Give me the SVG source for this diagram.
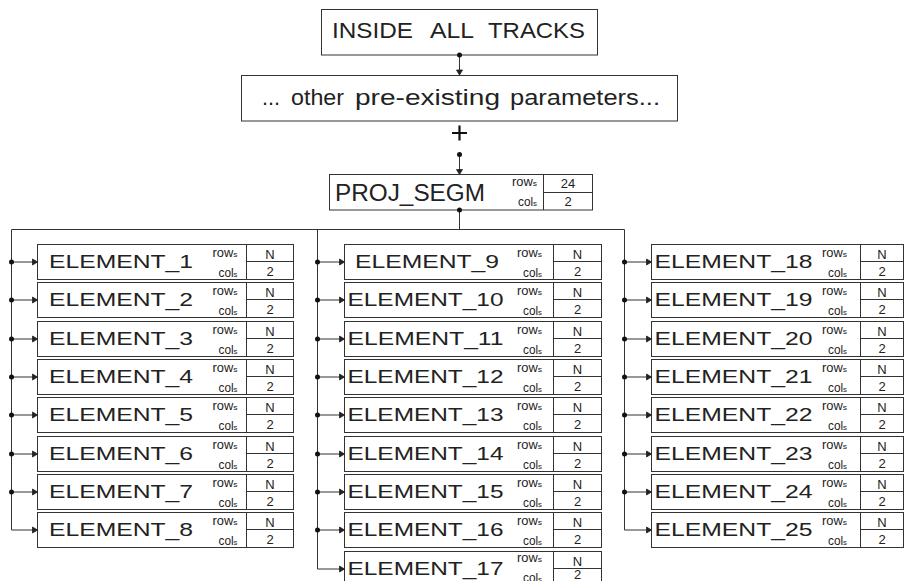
<svg xmlns="http://www.w3.org/2000/svg" width="904" height="581" viewBox="0 0 904 581">
<style>
.bx{fill:#fff;stroke:#333;stroke-width:1}
.ln{fill:none;stroke:#333;stroke-width:1}
.cn{fill:none;stroke:#333;stroke-width:1}
.dot{fill:#111}
.t{font-family:"Liberation Sans",Arial,sans-serif;fill:#222}
.lab{font-size:19px;text-anchor:middle}
.rc{font-size:12px;text-anchor:end}
.rc tspan{font-size:8px}
.v{font-size:13px;text-anchor:middle}
</style>
<defs>
<marker id="ar" markerUnits="userSpaceOnUse" markerWidth="8" markerHeight="8" refX="6" refY="4" orient="auto">
<path d="M1,1 L6,4 L1,7 Z" fill="#222" stroke="#222" stroke-width="0.8"/>
</marker>
<g id="rcl">
<text class="t rc" x="0" y="12.5" textLength="25" lengthAdjust="spacingAndGlyphs">row<tspan>s</tspan></text>
<text class="t rc" x="0" y="32.5" textLength="19" lengthAdjust="spacingAndGlyphs">col<tspan>s</tspan></text>
</g>
</defs>

<g id="inside_all_tracks">
<rect class="bx" x="321.5" y="9.5" width="276" height="45.5"/>
<text class="t" y="37.5" font-size="22.5"><tspan x="332" textLength="81" lengthAdjust="spacingAndGlyphs">INSIDE</tspan><tspan x="430" textLength="44" lengthAdjust="spacingAndGlyphs">ALL</tspan><tspan x="488" textLength="97" lengthAdjust="spacingAndGlyphs">TRACKS</tspan></text>
</g>

<g id="other_parameters">
<rect class="bx" x="241.5" y="75.5" width="436" height="45.5"/>
<text class="t" y="104.5" font-size="22"><tspan x="262" textLength="18" lengthAdjust="spacingAndGlyphs">...</tspan><tspan x="291" textLength="53" lengthAdjust="spacingAndGlyphs">other</tspan><tspan x="355" textLength="145" lengthAdjust="spacingAndGlyphs">pre-existing</tspan><tspan x="510" textLength="150" lengthAdjust="spacingAndGlyphs">parameters...</tspan></text>
</g>

<g id="plus">
<path d="M452,133 H467 M459.5,125.5 V140.5" stroke="#111" stroke-width="2.2" fill="none"/>
</g>

<g id="proj_segm">
<rect class="bx" x="329.5" y="174.5" width="263" height="35.5"/>
<line class="ln" x1="543.5" y1="174.5" x2="543.5" y2="210"/>
<line class="ln" x1="543.5" y1="192.5" x2="592.5" y2="192.5"/>
<text class="t" x="335" y="200.5" font-size="23" textLength="150" lengthAdjust="spacingAndGlyphs">PROJ_SEGM</text>
<use href="#rcl" x="537" y="173.5"/>
<text class="t v" x="568" y="187.5">24</text>
<text class="t v" x="568" y="206">2</text>
</g>

<!-- Column 1 -->
<g id="element_1"><rect class="bx" x="37.5" y="244.5" width="256" height="35"/><line class="ln" x1="246.5" y1="244.5" x2="246.5" y2="279.5"/><line class="ln" x1="246.5" y1="261.5" x2="293.5" y2="261.5"/><text class="t lab" x="121" y="267.5" textLength="144" lengthAdjust="spacingAndGlyphs">ELEMENT_1</text><use href="#rcl" x="237.5" y="244.5"/><text class="t v" x="270" y="258.5">N</text><text class="t v" x="270" y="276">2</text></g>
<g id="element_2"><rect class="bx" x="37.5" y="282.5" width="256" height="35"/><line class="ln" x1="246.5" y1="282.5" x2="246.5" y2="317.5"/><line class="ln" x1="246.5" y1="299.5" x2="293.5" y2="299.5"/><text class="t lab" x="121" y="305.5" textLength="144" lengthAdjust="spacingAndGlyphs">ELEMENT_2</text><use href="#rcl" x="237.5" y="282.5"/><text class="t v" x="270" y="296.5">N</text><text class="t v" x="270" y="314">2</text></g>
<g id="element_3"><rect class="bx" x="37.5" y="321.5" width="256" height="35"/><line class="ln" x1="246.5" y1="321.5" x2="246.5" y2="356.5"/><line class="ln" x1="246.5" y1="338.5" x2="293.5" y2="338.5"/><text class="t lab" x="121" y="344.5" textLength="144" lengthAdjust="spacingAndGlyphs">ELEMENT_3</text><use href="#rcl" x="237.5" y="321.5"/><text class="t v" x="270" y="335.5">N</text><text class="t v" x="270" y="353">2</text></g>
<g id="element_4"><rect class="bx" x="37.5" y="359.5" width="256" height="35"/><line class="ln" x1="246.5" y1="359.5" x2="246.5" y2="394.5"/><line class="ln" x1="246.5" y1="376.5" x2="293.5" y2="376.5"/><text class="t lab" x="121" y="382.5" textLength="144" lengthAdjust="spacingAndGlyphs">ELEMENT_4</text><use href="#rcl" x="237.5" y="359.5"/><text class="t v" x="270" y="373.5">N</text><text class="t v" x="270" y="391">2</text></g>
<g id="element_5"><rect class="bx" x="37.5" y="397.5" width="256" height="35"/><line class="ln" x1="246.5" y1="397.5" x2="246.5" y2="432.5"/><line class="ln" x1="246.5" y1="414.5" x2="293.5" y2="414.5"/><text class="t lab" x="121" y="420.5" textLength="144" lengthAdjust="spacingAndGlyphs">ELEMENT_5</text><use href="#rcl" x="237.5" y="397.5"/><text class="t v" x="270" y="411.5">N</text><text class="t v" x="270" y="429">2</text></g>
<g id="element_6"><rect class="bx" x="37.5" y="436.5" width="256" height="35"/><line class="ln" x1="246.5" y1="436.5" x2="246.5" y2="471.5"/><line class="ln" x1="246.5" y1="453.5" x2="293.5" y2="453.5"/><text class="t lab" x="121" y="459.5" textLength="144" lengthAdjust="spacingAndGlyphs">ELEMENT_6</text><use href="#rcl" x="237.5" y="436.5"/><text class="t v" x="270" y="450.5">N</text><text class="t v" x="270" y="468">2</text></g>
<g id="element_7"><rect class="bx" x="37.5" y="474.5" width="256" height="35"/><line class="ln" x1="246.5" y1="474.5" x2="246.5" y2="509.5"/><line class="ln" x1="246.5" y1="491.5" x2="293.5" y2="491.5"/><text class="t lab" x="121" y="497.5" textLength="144" lengthAdjust="spacingAndGlyphs">ELEMENT_7</text><use href="#rcl" x="237.5" y="474.5"/><text class="t v" x="270" y="488.5">N</text><text class="t v" x="270" y="506">2</text></g>
<g id="element_8"><rect class="bx" x="37.5" y="512.5" width="256" height="35"/><line class="ln" x1="246.5" y1="512.5" x2="246.5" y2="547.5"/><line class="ln" x1="246.5" y1="529.5" x2="293.5" y2="529.5"/><text class="t lab" x="121" y="535.5" textLength="144" lengthAdjust="spacingAndGlyphs">ELEMENT_8</text><use href="#rcl" x="237.5" y="512.5"/><text class="t v" x="270" y="526.5">N</text><text class="t v" x="270" y="544">2</text></g>

<!-- Column 2 -->
<g id="element_9"><rect class="bx" x="344.5" y="244.5" width="257" height="35"/><line class="ln" x1="553.5" y1="244.5" x2="553.5" y2="279.5"/><line class="ln" x1="553.5" y1="261.5" x2="601.5" y2="261.5"/><text class="t lab" x="427" y="267.5" textLength="144" lengthAdjust="spacingAndGlyphs">ELEMENT_9</text><use href="#rcl" x="542" y="244.5"/><text class="t v" x="577.5" y="258.5">N</text><text class="t v" x="577.5" y="276">2</text></g>
<g id="element_10"><rect class="bx" x="344.5" y="282.5" width="257" height="35"/><line class="ln" x1="553.5" y1="282.5" x2="553.5" y2="317.5"/><line class="ln" x1="553.5" y1="299.5" x2="601.5" y2="299.5"/><text class="t lab" x="425.5" y="305.5" textLength="156" lengthAdjust="spacingAndGlyphs">ELEMENT_10</text><use href="#rcl" x="542" y="282.5"/><text class="t v" x="577.5" y="296.5">N</text><text class="t v" x="577.5" y="314">2</text></g>
<g id="element_11"><rect class="bx" x="344.5" y="321.5" width="257" height="35"/><line class="ln" x1="553.5" y1="321.5" x2="553.5" y2="356.5"/><line class="ln" x1="553.5" y1="338.5" x2="601.5" y2="338.5"/><text class="t lab" x="425.5" y="344.5" textLength="156" lengthAdjust="spacingAndGlyphs">ELEMENT_11</text><use href="#rcl" x="542" y="321.5"/><text class="t v" x="577.5" y="335.5">N</text><text class="t v" x="577.5" y="353">2</text></g>
<g id="element_12"><rect class="bx" x="344.5" y="359.5" width="257" height="35"/><line class="ln" x1="553.5" y1="359.5" x2="553.5" y2="394.5"/><line class="ln" x1="553.5" y1="376.5" x2="601.5" y2="376.5"/><text class="t lab" x="425.5" y="382.5" textLength="156" lengthAdjust="spacingAndGlyphs">ELEMENT_12</text><use href="#rcl" x="542" y="359.5"/><text class="t v" x="577.5" y="373.5">N</text><text class="t v" x="577.5" y="391">2</text></g>
<g id="element_13"><rect class="bx" x="344.5" y="397.5" width="257" height="35"/><line class="ln" x1="553.5" y1="397.5" x2="553.5" y2="432.5"/><line class="ln" x1="553.5" y1="414.5" x2="601.5" y2="414.5"/><text class="t lab" x="425.5" y="420.5" textLength="156" lengthAdjust="spacingAndGlyphs">ELEMENT_13</text><use href="#rcl" x="542" y="397.5"/><text class="t v" x="577.5" y="411.5">N</text><text class="t v" x="577.5" y="429">2</text></g>
<g id="element_14"><rect class="bx" x="344.5" y="436.5" width="257" height="35"/><line class="ln" x1="553.5" y1="436.5" x2="553.5" y2="471.5"/><line class="ln" x1="553.5" y1="453.5" x2="601.5" y2="453.5"/><text class="t lab" x="425.5" y="459.5" textLength="156" lengthAdjust="spacingAndGlyphs">ELEMENT_14</text><use href="#rcl" x="542" y="436.5"/><text class="t v" x="577.5" y="450.5">N</text><text class="t v" x="577.5" y="468">2</text></g>
<g id="element_15"><rect class="bx" x="344.5" y="474.5" width="257" height="35"/><line class="ln" x1="553.5" y1="474.5" x2="553.5" y2="509.5"/><line class="ln" x1="553.5" y1="491.5" x2="601.5" y2="491.5"/><text class="t lab" x="425.5" y="497.5" textLength="156" lengthAdjust="spacingAndGlyphs">ELEMENT_15</text><use href="#rcl" x="542" y="474.5"/><text class="t v" x="577.5" y="488.5">N</text><text class="t v" x="577.5" y="506">2</text></g>
<g id="element_16"><rect class="bx" x="344.5" y="512.5" width="257" height="35"/><line class="ln" x1="553.5" y1="512.5" x2="553.5" y2="547.5"/><line class="ln" x1="553.5" y1="529.5" x2="601.5" y2="529.5"/><text class="t lab" x="425.5" y="535.5" textLength="156" lengthAdjust="spacingAndGlyphs">ELEMENT_16</text><use href="#rcl" x="542" y="512.5"/><text class="t v" x="577.5" y="526.5">N</text><text class="t v" x="577.5" y="544">2</text></g>
<g id="element_17"><rect class="bx" x="344.5" y="551.5" width="257" height="35"/><line class="ln" x1="553.5" y1="551.5" x2="553.5" y2="586.5"/><line class="ln" x1="553.5" y1="568.5" x2="601.5" y2="568.5"/><text class="t lab" x="425.5" y="574.5" textLength="156" lengthAdjust="spacingAndGlyphs">ELEMENT_17</text><use href="#rcl" x="542" y="549.5"/><text class="t v" x="577.5" y="565.5">N</text><text class="t v" x="577.5" y="579" font-size="10">2</text></g>

<!-- Column 3 -->
<g id="element_18"><rect class="bx" x="651.5" y="244.5" width="252" height="35"/><line class="ln" x1="860.5" y1="244.5" x2="860.5" y2="279.5"/><line class="ln" x1="860.5" y1="261.5" x2="903.5" y2="261.5"/><text class="t lab" x="733.5" y="267.5" textLength="158" lengthAdjust="spacingAndGlyphs">ELEMENT_18</text><use href="#rcl" x="847" y="244.5"/><text class="t v" x="882" y="258.5">N</text><text class="t v" x="882" y="276">2</text></g>
<g id="element_19"><rect class="bx" x="651.5" y="282.5" width="252" height="35"/><line class="ln" x1="860.5" y1="282.5" x2="860.5" y2="317.5"/><line class="ln" x1="860.5" y1="299.5" x2="903.5" y2="299.5"/><text class="t lab" x="733.5" y="305.5" textLength="158" lengthAdjust="spacingAndGlyphs">ELEMENT_19</text><use href="#rcl" x="847" y="282.5"/><text class="t v" x="882" y="296.5">N</text><text class="t v" x="882" y="314">2</text></g>
<g id="element_20"><rect class="bx" x="651.5" y="321.5" width="252" height="35"/><line class="ln" x1="860.5" y1="321.5" x2="860.5" y2="356.5"/><line class="ln" x1="860.5" y1="338.5" x2="903.5" y2="338.5"/><text class="t lab" x="733.5" y="344.5" textLength="158" lengthAdjust="spacingAndGlyphs">ELEMENT_20</text><use href="#rcl" x="847" y="321.5"/><text class="t v" x="882" y="335.5">N</text><text class="t v" x="882" y="353">2</text></g>
<g id="element_21"><rect class="bx" x="651.5" y="359.5" width="252" height="35"/><line class="ln" x1="860.5" y1="359.5" x2="860.5" y2="394.5"/><line class="ln" x1="860.5" y1="376.5" x2="903.5" y2="376.5"/><text class="t lab" x="733.5" y="382.5" textLength="158" lengthAdjust="spacingAndGlyphs">ELEMENT_21</text><use href="#rcl" x="847" y="359.5"/><text class="t v" x="882" y="373.5">N</text><text class="t v" x="882" y="391">2</text></g>
<g id="element_22"><rect class="bx" x="651.5" y="397.5" width="252" height="35"/><line class="ln" x1="860.5" y1="397.5" x2="860.5" y2="432.5"/><line class="ln" x1="860.5" y1="414.5" x2="903.5" y2="414.5"/><text class="t lab" x="733.5" y="420.5" textLength="158" lengthAdjust="spacingAndGlyphs">ELEMENT_22</text><use href="#rcl" x="847" y="397.5"/><text class="t v" x="882" y="411.5">N</text><text class="t v" x="882" y="429">2</text></g>
<g id="element_23"><rect class="bx" x="651.5" y="436.5" width="252" height="35"/><line class="ln" x1="860.5" y1="436.5" x2="860.5" y2="471.5"/><line class="ln" x1="860.5" y1="453.5" x2="903.5" y2="453.5"/><text class="t lab" x="733.5" y="459.5" textLength="158" lengthAdjust="spacingAndGlyphs">ELEMENT_23</text><use href="#rcl" x="847" y="436.5"/><text class="t v" x="882" y="450.5">N</text><text class="t v" x="882" y="468">2</text></g>
<g id="element_24"><rect class="bx" x="651.5" y="474.5" width="252" height="35"/><line class="ln" x1="860.5" y1="474.5" x2="860.5" y2="509.5"/><line class="ln" x1="860.5" y1="491.5" x2="903.5" y2="491.5"/><text class="t lab" x="733.5" y="497.5" textLength="158" lengthAdjust="spacingAndGlyphs">ELEMENT_24</text><use href="#rcl" x="847" y="474.5"/><text class="t v" x="882" y="488.5">N</text><text class="t v" x="882" y="506">2</text></g>
<g id="element_25"><rect class="bx" x="651.5" y="512.5" width="252" height="35"/><line class="ln" x1="860.5" y1="512.5" x2="860.5" y2="547.5"/><line class="ln" x1="860.5" y1="529.5" x2="903.5" y2="529.5"/><text class="t lab" x="733.5" y="535.5" textLength="158" lengthAdjust="spacingAndGlyphs">ELEMENT_25</text><use href="#rcl" x="847" y="512.5"/><text class="t v" x="882" y="526.5">N</text><text class="t v" x="882" y="544">2</text></g>

<g id="connectors">
<line class="cn" x1="459.5" y1="55" x2="459.5" y2="75" marker-end="url(#ar)"/>
<circle class="dot" cx="459.5" cy="55" r="2.5"/>
<line class="cn" x1="459.5" y1="154.5" x2="459.5" y2="174.5" marker-end="url(#ar)"/>
<circle class="dot" cx="459.5" cy="154.5" r="2.5"/>
<line class="cn" x1="459.5" y1="210" x2="459.5" y2="229.5"/>
<circle class="dot" cx="459.5" cy="210" r="2.5"/>
<path class="cn" d="M11.5,229.5 H624.5"/>
<path class="cn" d="M11.5,229.5 V530 H37.5" marker-end="url(#ar)"/>
<path class="cn" d="M317.5,229.5 V569 H344.5" marker-end="url(#ar)"/>
<path class="cn" d="M624.5,229.5 V530 H651.5" marker-end="url(#ar)"/>
<g id="c1">
<path class="cn" d="M11.5,262 H37.5" marker-end="url(#ar)"/><circle class="dot" cx="11.5" cy="262" r="2.5"/>
<path class="cn" d="M11.5,300 H37.5" marker-end="url(#ar)"/><circle class="dot" cx="11.5" cy="300" r="2.5"/>
<path class="cn" d="M11.5,339 H37.5" marker-end="url(#ar)"/><circle class="dot" cx="11.5" cy="339" r="2.5"/>
<path class="cn" d="M11.5,377 H37.5" marker-end="url(#ar)"/><circle class="dot" cx="11.5" cy="377" r="2.5"/>
<path class="cn" d="M11.5,415 H37.5" marker-end="url(#ar)"/><circle class="dot" cx="11.5" cy="415" r="2.5"/>
<path class="cn" d="M11.5,454 H37.5" marker-end="url(#ar)"/><circle class="dot" cx="11.5" cy="454" r="2.5"/>
<path class="cn" d="M11.5,492 H37.5" marker-end="url(#ar)"/><circle class="dot" cx="11.5" cy="492" r="2.5"/>
</g>
<g id="c2">
<path class="cn" d="M317.5,262 H344.5" marker-end="url(#ar)"/><circle class="dot" cx="317.5" cy="262" r="2.5"/>
<path class="cn" d="M317.5,300 H344.5" marker-end="url(#ar)"/><circle class="dot" cx="317.5" cy="300" r="2.5"/>
<path class="cn" d="M317.5,339 H344.5" marker-end="url(#ar)"/><circle class="dot" cx="317.5" cy="339" r="2.5"/>
<path class="cn" d="M317.5,377 H344.5" marker-end="url(#ar)"/><circle class="dot" cx="317.5" cy="377" r="2.5"/>
<path class="cn" d="M317.5,415 H344.5" marker-end="url(#ar)"/><circle class="dot" cx="317.5" cy="415" r="2.5"/>
<path class="cn" d="M317.5,454 H344.5" marker-end="url(#ar)"/><circle class="dot" cx="317.5" cy="454" r="2.5"/>
<path class="cn" d="M317.5,492 H344.5" marker-end="url(#ar)"/><circle class="dot" cx="317.5" cy="492" r="2.5"/>
<path class="cn" d="M317.5,530 H344.5" marker-end="url(#ar)"/><circle class="dot" cx="317.5" cy="530" r="2.5"/>
</g>
<g id="c3">
<path class="cn" d="M624.5,262 H651.5" marker-end="url(#ar)"/><circle class="dot" cx="624.5" cy="262" r="2.5"/>
<path class="cn" d="M624.5,300 H651.5" marker-end="url(#ar)"/><circle class="dot" cx="624.5" cy="300" r="2.5"/>
<path class="cn" d="M624.5,339 H651.5" marker-end="url(#ar)"/><circle class="dot" cx="624.5" cy="339" r="2.5"/>
<path class="cn" d="M624.5,377 H651.5" marker-end="url(#ar)"/><circle class="dot" cx="624.5" cy="377" r="2.5"/>
<path class="cn" d="M624.5,415 H651.5" marker-end="url(#ar)"/><circle class="dot" cx="624.5" cy="415" r="2.5"/>
<path class="cn" d="M624.5,454 H651.5" marker-end="url(#ar)"/><circle class="dot" cx="624.5" cy="454" r="2.5"/>
<path class="cn" d="M624.5,492 H651.5" marker-end="url(#ar)"/><circle class="dot" cx="624.5" cy="492" r="2.5"/>
</g>
</g>
</svg>
